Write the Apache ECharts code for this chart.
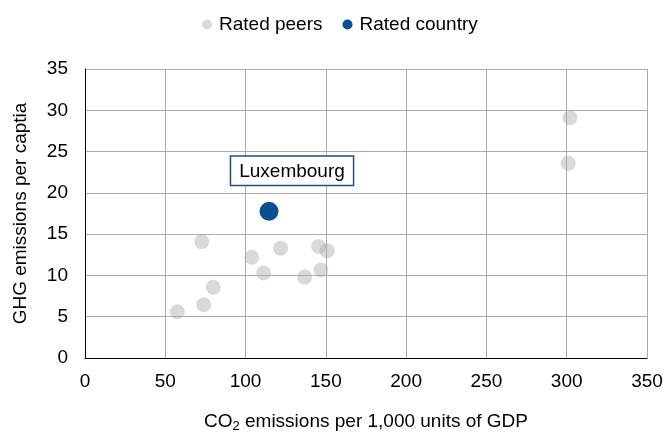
<!DOCTYPE html>
<html>
<head>
<meta charset="utf-8">
<script src="https://cdn.jsdelivr.net/npm/echarts@6/dist/echarts.min.js"></script>
<style>
  html, body { margin: 0; padding: 0; background: #fff; }
  #chart { width: 665px; height: 432px; }
</style>
</head>
<body>
<div id="chart"></div>
<script>
  // peers (CO2 per 1,000 GDP, GHG per capita)
  var peerX = [72.7, 103.8, 121.8, 145.5, 150.9, 111.3, 136.8, 146.9, 79.9, 73.9, 57.5, 302, 300.9]
  var peerY = [14.1, 12.2, 13.3, 13.5, 13.0, 10.3, 9.8, 10.65, 8.56, 6.45, 5.6, 29.1, 23.6]
  var countryName = 'Luxembourg'
  var countryX = [114.6]
  var countryY = [17.76]

  var font = '"Liberation Sans", Arial, sans-serif'
  var chart = echarts.init(document.getElementById('chart'))

  chart.setOption({
    animation: false,
    textStyle: { fontFamily: font },
    legend: {
      top: 10,
      left: 197,
      itemWidth: 14,
      itemHeight: 10,
      itemGap: 20,
      textStyle: { fontSize: 19, color: '#000', fontFamily: font },
      data: [
        { name: 'Rated peers', icon: 'circle', itemStyle: { color: '#cfcfcf' } },
        { name: 'Rated country', icon: 'circle' }
      ]
    },
    grid: { left: 85, right: 18, top: 69, bottom: 74, containLabel: false, outerBoundsMode: 'none' },
    xAxis: {
      type: 'value',
      min: 0,
      max: 350,
      interval: 50,
      name: 'CO{sub|2} emissions per 1,000 units of GDP',
      nameLocation: 'middle',
      nameGap: 52,
      nameTextStyle: {
        fontSize: 19, color: '#000', fontFamily: font,
        rich: { sub: { fontSize: 13, padding: [10, 0, 0, 0], fontFamily: font, color: '#000' } }
      },
      axisLine: { show: true, lineStyle: { color: '#000', width: 1 } },
      axisTick: { show: false },
      axisLabel: { fontSize: 19, color: '#000', margin: 14 },
      splitLine: { show: true, lineStyle: { color: '#ababab', width: 1 } }
    },
    yAxis: {
      type: 'value',
      min: 0,
      max: 35,
      interval: 5,
      name: 'GHG emissions per captia',
      nameLocation: 'middle',
      nameGap: 55,
      nameTextStyle: { fontSize: 19, color: '#000', fontFamily: font },
      axisLine: { show: true, lineStyle: { color: '#000', width: 1 } },
      axisTick: { show: false },
      axisLabel: { fontSize: 19, color: '#000', margin: 17 },
      splitLine: { show: true, lineStyle: { color: '#ababab', width: 1 } }
    },
    series: [
      {
        name: 'Rated peers',
        type: 'scatter',
        symbolSize: 15,
        itemStyle: { color: 'rgba(166,166,166,0.54)' },
        data: peerX.map(function (x, i) { return [x, peerY[i]] })
      },
      {
        name: 'Rated country',
        type: 'scatter',
        symbolSize: 19,
        itemStyle: { color: '#0b4f93', opacity: 1 },
        label: {
          show: true,
          position: 'top',
          distance: 17,
          offset: [23, 0],
          formatter: countryName,
          fontSize: 19,
          color: '#000',
          fontFamily: font,
          backgroundColor: '#fff',
          borderColor: '#1a4f8c',
          borderWidth: 1.5,
          padding: [5, 8, 4, 8]
        },
        data: countryX.map(function (x, i) { return [x, countryY[i]] })
      }
    ]
  })
</script>
</body>
</html>
